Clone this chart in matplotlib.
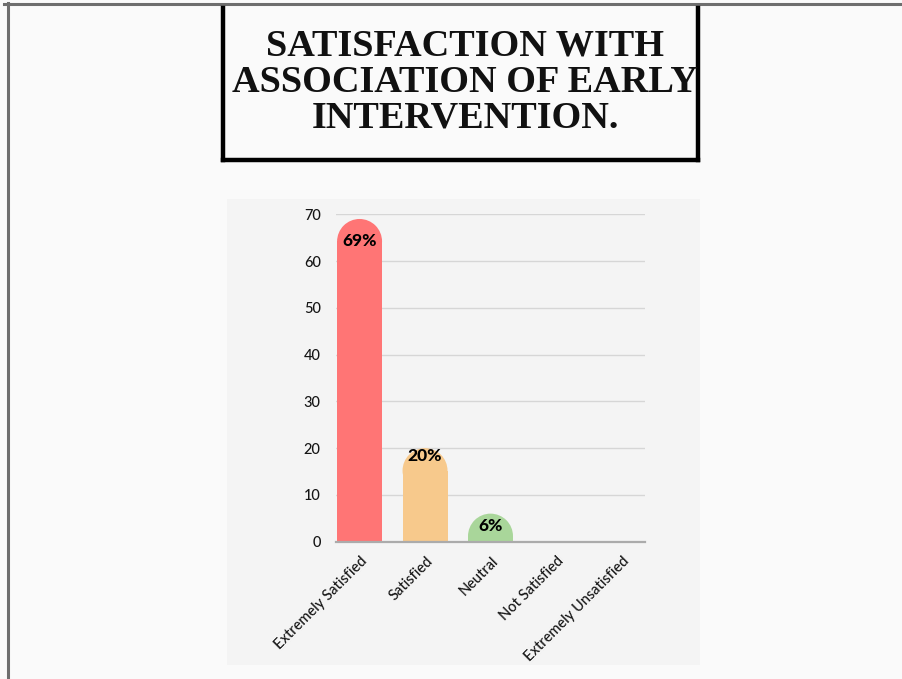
import matplotlib
matplotlib.use("Agg")
import matplotlib.pyplot as plt
from matplotlib.patches import Rectangle, Ellipse
from matplotlib.lines import Line2D
import matplotlib.transforms as mtransforms

# --- data ---------------------------------------------------------------
categories = ["Extremely Satisfied", "Satisfied", "Neutral",
              "Not Satisfied", "Extremely Unsatisfied"]
values = [69, 20, 6, 0, 0]
value_labels = ["69%", "20%", "6%", "", ""]
yticks = [0, 10, 20, 30, 40, 50, 60, 70]
title_lines = ["SATISFACTION WITH", "ASSOCIATION OF EARLY", "INTERVENTION."]

# --- style --------------------------------------------------------------
bar_colors = ["#ff7575", "#f7c98c", "#a9d69a", "#cccccc", "#cccccc"]
label_drop_px = [22, 8, 12, 0, 0]   # label centre below bar top, in pixels
W, H = 903, 679
DPI = 100
sans = ["Lato", "DejaVu Sans"]

fig = plt.figure(figsize=(W / DPI, H / DPI), dpi=DPI, facecolor="#fafafa")


def fx(px):
    return px / W


def fy(py):
    return 1 - py / H


# outer frame lines (top and left)
fig.add_artist(Line2D([fx(4), 1], [fy(3.5), fy(3.5)], color="#6e6e6e", lw=2.2))
fig.add_artist(Line2D([fx(8), fx(8)], [fy(3), 0], color="#6e6e6e", lw=2.2))

# title box (open at the top)
box_kw = dict(color="#000000", lw=3.2, solid_capstyle="projecting")
fig.add_artist(Line2D([fx(223), fx(223)], [fy(8), fy(160)], **box_kw))
fig.add_artist(Line2D([fx(698), fx(698)], [fy(8), fy(160)], **box_kw))
fig.add_artist(Line2D([fx(223), fx(698)], [fy(160), fy(160)], **box_kw))

for i, line in enumerate(title_lines):
    fig.text(fx(465), fy(55 + 36.5 * i), line, ha="center", va="baseline",
             fontsize=27.5, fontweight="bold", family="Liberation Serif",
             color="#111111")

# chart panel background
fig.add_artist(Rectangle((fx(227), fy(665)), fx(700) - fx(227), fy(199) - fy(665),
                         transform=fig.transFigure, facecolor="#f4f4f4",
                         edgecolor="none", zorder=0))

# axes
ax_left, ax_right, ax_top, ax_bottom = 336, 645, 214.3, 541.7
ax = fig.add_axes([fx(ax_left), fy(ax_bottom), fx(ax_right - ax_left),
                   (ax_bottom - ax_top) / H])
ax.set_facecolor("none")
ax.set_xlim(-0.36, len(categories) - 1 + 0.36)
ax.set_ylim(0, 70)
for s in ax.spines.values():
    s.set_visible(False)

ax.set_yticks(yticks)
ax.yaxis.grid(True, color="#d6d6d6", lw=1.0)
ax.set_axisbelow(True)
ax.tick_params(axis="y", length=0, pad=11, labelsize=10.5, labelcolor="#151515")
for t in ax.get_yticklabels():
    t.set_family(sans)
    t.set_fontweight("medium")

ax.axhline(0, color="#ababab", lw=1.6, zorder=5, clip_on=False)

# rounded-top bars
bar_w = 0.687
x0 = ax.transData.transform((0, 0))
x1 = ax.transData.transform((1, 1))
px_per_y = x1[1] - x0[1]
px_per_x = x1[0] - x0[0]
r_y = (bar_w * px_per_x / 2) / px_per_y

for i, (v, c) in enumerate(zip(values, bar_colors)):
    if v <= 0:
        continue
    body_top = max(v - r_y, 0)
    ax.add_patch(Rectangle((i - bar_w / 2, 0), bar_w, body_top,
                           facecolor=c, edgecolor="none", zorder=3))
    ax.add_patch(Ellipse((i, v - r_y), bar_w, 2 * r_y,
                         facecolor=c, edgecolor="none", zorder=3))
    ax.annotate(value_labels[i], (i, v), xytext=(0, -label_drop_px[i] * 72 / DPI),
                textcoords="offset points", ha="center", va="center",
                fontsize=12.5, fontweight="black", family=sans, color="#000000",
                zorder=6)

ax.set_xticks(range(len(categories)))
ax.set_xticklabels(categories, rotation=45, ha="right", rotation_mode="anchor",
                   fontsize=10.5, color="#151515", family=sans)
ax.tick_params(axis="x", length=0, pad=9)
offset = mtransforms.ScaledTranslation(1 / DPI, 0, fig.dpi_scale_trans)
for t in ax.get_xticklabels():
    t.set_transform(t.get_transform() + offset)
    t.set_fontweight("medium")

fig.savefig("out.png", dpi=DPI, facecolor=fig.get_facecolor())
